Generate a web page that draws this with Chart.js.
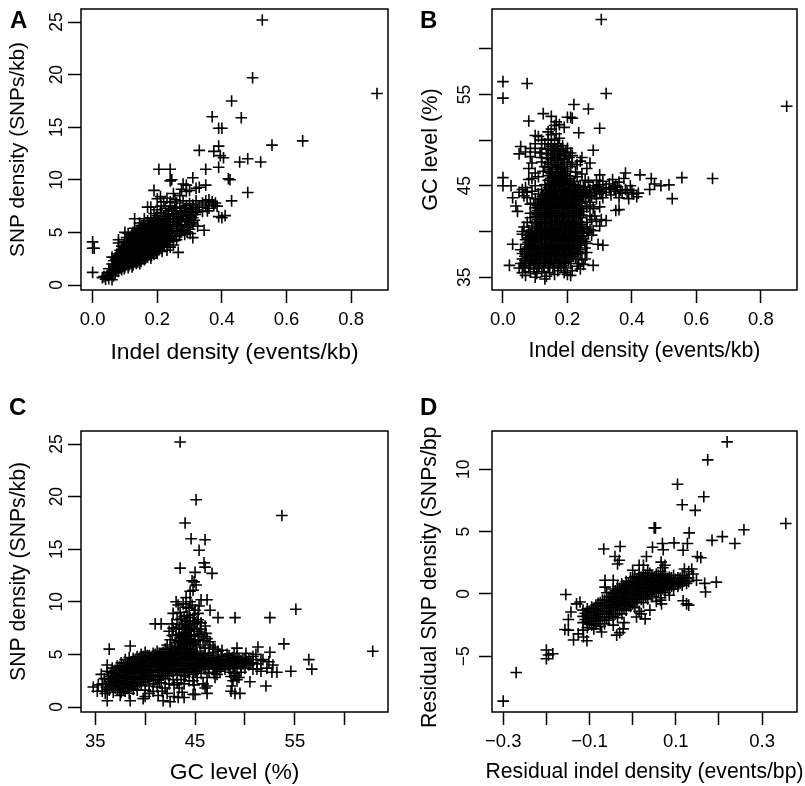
<!DOCTYPE html>
<html>
<head>
<meta charset="utf-8">
<title>Indel and SNP density</title>
<script src="https://cdn.jsdelivr.net/npm/chart.js@4"></script>
<style>
  html, body { margin: 0; padding: 0; background: #fff; }
  #page { position: relative; width: 805px; height: 786px; overflow: hidden; }
  canvas { position: absolute; }
  .letter { position: absolute; font: bold 24px "Liberation Sans", sans-serif; line-height: 24px; color: #000; }
</style>
</head>
<body>
<div id="page">
  <canvas id="panelA" width="400" height="375" style="left:0;top:0"></canvas>
  <canvas id="panelB" width="400" height="375" style="left:405px;top:0"></canvas>
  <canvas id="panelC" width="400" height="396" style="left:0;top:390px"></canvas>
  <canvas id="panelD" width="400" height="396" style="left:405px;top:390px"></canvas>
  <div class="letter" style="left:10px;top:8px">A</div>
  <div class="letter" style="left:420px;top:8px">B</div>
  <div class="letter" style="left:9px;top:395px">C</div>
  <div class="letter" style="left:420px;top:395px">D</div>
</div>
<script>
// Values, [x, y] per plus sign.
const pointsA = [
  [.525,25.2],[.495,19.7],[.88,18.2],[.43,17.5],[.37,16],[.46,15.9],[.39,14.9],[.4,14.9],[.65,13.7],[.555,13.3],[.39,13.2],[.33,12.8],[.375,12.7],[.395,12.3],[.405,12.1],[.48,12],[.455,11.7],[.52,11.7],[.39,11.2],[.35,11],[.205,11],[.24,11],[.24,9.9],[.245,10],[.42,10.1],[.425,10],[.31,10.2],[.28,9.6],[.29,9.5],[.35,9.5],[.48,8.8],[.19,9],[.43,8],[.41,6.6],[.39,6.5],[.4,6.4],[.345,5.2],[.31,4.5],[.265,3.1],[0,4.1],[0,3.5],[.005,3.5],[0,1.2],[.08,4.3],[.08,4],[.1,5],[.13,6.3],[.18,7.4],[.17,7.4],
  [.32,9.2],[.3,9],[.33,9.3],[.21,8.4],[.25,8.7],[.27,8.5],[.24,7.9],[.22,7.9],[.26,7.8],[.28,8],[.27,7.4],[.32,8],[.31,7.6],[.33,7.4],[.34,7.8],[.35,8],[.36,8.1],[.37,7.9],[.38,7.8],[.385,7.5],[.36,7.3],[.3,7.2],[.29,6.9],[.34,7],[.32,6.9],
  [.03,.7],[.04,.55],[.05,.6],[.045,.9],[.035,.8],[.06,.5],[.055,1],[.065,.85],[.05,1.2],[.06,1.3],[.07,1.15],[.08,1.3],[.05,1.55],[.065,1.6],[.075,1.5],[.09,1.45],[.06,2],[.07,1.9],[.08,1.8],[.09,1.85],[.1,1.75],[.11,1.65],[.065,2.3],[.075,2.2],[.085,2.25],[.095,2.15],[.105,2.1],[.115,2],[.125,1.9],[.06,2.65],
  [.07,2.6],[.08,2.55],[.09,2.6],[.1,2.5],[.11,2.45],[.12,2.4],[.13,2.3],[.14,2.2],[.15,2.25],[.16,2.4],
  [.075,2.95],[.085,2.9],[.095,3],[.105,2.85],[.115,2.9],[.125,2.8],[.135,2.75],[.145,2.7],[.155,2.8],[.17,2.65],[.18,2.55],
  [.085,3.3],[.095,3.35],[.105,3.25],[.115,3.3],[.125,3.2],[.135,3.25],[.145,3.15],[.155,3.2],[.165,3.1],[.175,3.05],[.19,2.9],[.2,3],
  [.09,3.7],[.1,3.65],[.11,3.75],[.12,3.6],[.13,3.7],[.14,3.55],[.15,3.65],[.16,3.5],[.17,3.55],[.18,3.45],[.19,3.4],[.205,3.35],[.215,3.2],[.23,3.3],
  [.1,4.1],[.11,4],[.12,4.15],[.13,4.05],[.14,4],[.15,4.1],[.16,3.95],[.17,4.05],[.18,3.9],[.19,3.85],[.2,3.9],[.21,3.75],[.22,3.7],[.24,3.6],[.25,3.8],
  [.105,4.5],[.115,4.4],[.125,4.55],[.135,4.45],[.145,4.5],[.155,4.4],[.165,4.5],[.175,4.35],[.185,4.45],[.195,4.3],[.205,4.35],[.215,4.2],[.225,4.25],[.235,4.1],[.25,4.2],[.26,4.3],
  [.11,4.9],[.125,5],[.14,4.85],[.15,4.95],[.16,4.85],[.17,4.95],[.18,4.8],[.19,4.9],[.2,4.75],[.21,4.85],[.22,4.7],[.23,4.75],[.24,4.6],[.255,4.65],[.27,4.7],[.285,4.8],
  [.13,5.4],[.145,5.35],[.155,5.45],[.165,5.3],[.175,5.4],[.185,5.3],[.195,5.4],[.205,5.25],[.215,5.35],[.225,5.2],[.235,5.25],[.245,5.1],[.26,5.15],[.28,5.2],[.3,5.3],
  [.145,5.9],[.16,5.8],[.175,5.9],[.185,5.75],[.2,5.85],[.21,5.7],[.22,5.8],[.23,5.65],[.24,5.75],[.25,5.6],[.265,5.7],[.285,5.75],[.31,5.8],[.325,5.6],
  [.16,6.3],[.18,6.4],[.195,6.3],[.21,6.35],[.225,6.25],[.24,6.3],[.255,6.2],[.27,6.25],[.29,6.3],[.31,6.4],
  [.19,6.8],[.21,6.9],[.23,6.75],[.245,7.1],[.26,6.8],[.275,6.7],[.3,6.6],[.225,7.3]
];
const coreA = [
  [.058,1.12],[.072,1.38],[.083,1.62],[.098,1.55],[.068,1.78],[.078,2.02],[.088,2.05],[.102,1.97],[.112,1.86],[.122,1.72],[.072,2.42],[.083,2.4],[.092,2.38],[.103,2.32],[.113,2.26],[.124,2.18],[.135,2.05],[.146,2.02],[.08,2.75],[.09,2.78],[.101,2.68],[.11,2.7],[.12,2.62],[.13,2.55],[.141,2.45],[.152,2.52],[.164,2.58],[.09,3.15],[.1,3.12],[.11,3.08],[.12,3.05],[.13,3],[.14,2.95],[.15,3],[.16,2.9],[.172,2.87],[.182,2.78],
  [.096,3.52],[.106,3.48],[.116,3.5],[.126,3.42],[.136,3.45],[.146,3.38],[.156,3.42],[.166,3.33],[.176,3.28],[.186,3.22],[.197,3.15],[.105,3.87],[.115,3.88],[.125,3.82],[.135,3.85],[.145,3.78],[.155,3.85],[.165,3.74],[.175,3.8],[.185,3.68],[.195,3.62],[.205,3.58],[.112,4.28],[.122,4.32],[.132,4.25],[.142,4.27],[.152,4.22],[.162,4.26],[.172,4.18],[.182,4.2],[.192,4.08],[.202,4.12],[.212,3.98],[.222,3.95],[.233,3.85],
  [.12,4.72],[.13,4.75],[.145,4.68],[.155,4.72],[.165,4.66],[.175,4.68],[.185,4.62],[.195,4.68],[.205,4.58],[.215,4.6],[.225,4.48],[.24,4.38],[.138,5.2],[.15,5.15],[.16,5.18],[.17,5.12],[.18,5.15],[.19,5.1],[.2,5.15],[.21,5.05],[.22,5.1],[.23,5],[.245,4.9],[.15,5.62],[.17,5.65],[.18,5.58],[.19,5.6],[.2,5.55],[.21,5.5],[.22,5.55],[.235,5.45],[.25,5.38],[.17,6.1],[.19,6.05],[.205,6.1],[.218,6],[.232,6.05],[.248,5.95],[.26,5.95],[.2,6.6],[.22,6.55],[.235,6.58],[.25,6.5],[.265,6.45],
  [.272,5.55],[.262,5.35],[.275,5.05],[.268,4.85],[.292,5.05],[.302,4.9],[.295,5.55],[.305,5.95],[.29,6.1],[.275,6.05],[.28,6.5],[.295,6.6],[.315,6.15],[.318,6.7],[.305,6.95],[.285,7.25],[.255,7.3],[.24,7.5],[.275,7.05],[.25,7.05],[.235,7.05],[.212,7.5],[.2,7.15],[.31,7.35],[.3,7.75],[.29,7.55],[.35,7.6],[.375,7.55],[.325,7.15],[.355,7.05],[.255,8.1],[.275,9.1],[.29,8.9],[.23,8.25],[.2,8.2]
];

const pointsB = [
  [.305,63.2],[0,56.4],[.075,56.2],[0,54.6],[.32,55.1],[.88,53.7],[.22,53.9],[.265,53.4],[.125,52.9],[.15,52.6],[.21,52.5],[.2,52.5],[.215,52.4],[.08,52.1],[.165,52],[.175,51.7],[.19,51.4],[.3,51.3],[.235,50.8],[.1,50.5],[.14,50.9],[.28,48.9],[.245,48.1],[.24,47.7],[.055,49.3],[.05,48.5],[.07,48.7],[.085,48.2],[.08,46.9],[.26,46.9],[.3,46.2],[0,45.9],[0,45],[.025,45],[.65,45.8],[.555,45.9],[.46,45.8],[.425,46.2],[.38,46.4],[.375,45.8],[.515,45.1],[.525,43.6],[.49,45],[.47,45.2],[.455,44.6],[.42,44.2],[.415,43.8],[.38,44.6],[.37,44.2],[.4,44.5],[.39,43.6],[.36,45.4],[.34,45.7],[.33,45.2],[.32,44.8],[.31,45.5],[.3,44.4],[.35,44.4],[.36,43.7],[.335,44],[.31,43.7],[.285,44.1],[.27,44.6],[.28,45],[.265,45.4],[.29,43.6],[.36,42.4],[.35,42.3],[.305,41.3],[.32,41.2],[.29,41.1],[.31,38.5],[.295,38.6],[.28,36.3],[.02,36.3],[.03,38.6],[.03,43.7],[.04,42.8],[.045,42.2],[.05,44.3],[.06,44.6],[.07,44.8],[.08,45.7],[.09,45.8],[.11,46],[.12,50],[.11,50.4],
  [.1,35],[.13,34.8],[.135,35.1],[.07,35.2],[.16,35.3],[.2,35.3],[.21,35.2],[.06,35.5],[.085,35.6],[.105,35.4],[.12,35.6],[.145,35.5],[.17,35.7],[.23,36.2],[.05,36],[.065,36.1],[.08,36],[.095,35.9],[.11,36.1],[.125,36],[.14,36.1],[.155,36],[.18,36.1],[.195,36],[.235,36.5],[.055,36.5],[.07,36.6],[.085,36.5],[.1,36.6],[.115,36.5],[.13,36.6],[.145,36.5],[.16,36.6],[.175,36.5],[.19,36.6],[.21,36.5],[.25,36.4],
  [.06,37],[.075,37.1],[.09,37],[.105,37.1],[.12,37],[.135,37.1],[.15,37],[.165,37.1],[.18,37],[.195,37.1],[.21,37],[.225,37.1],[.245,36.9],[.06,37.6],[.075,37.5],[.09,37.6],[.105,37.5],[.12,37.6],[.135,37.5],[.15,37.6],[.165,37.5],[.18,37.6],[.195,37.5],[.21,37.6],[.225,37.5],[.24,37.6],
  [.055,38],[.07,38.1],[.085,38],[.1,38.1],[.115,38],[.13,38.1],[.145,38],[.16,38.1],[.175,38],[.19,38.1],[.205,38],[.22,38.1],[.235,38],[.255,38.2],[.07,38.6],[.085,38.5],[.1,38.6],[.115,38.5],[.13,38.6],[.145,38.5],[.16,38.6],[.175,38.5],[.19,38.6],[.205,38.5],[.22,38.6],[.24,38.5],[.26,38.7],
  [.07,39.1],[.085,39],[.1,39.1],[.115,39],[.13,39.1],[.145,39],[.16,39.1],[.175,39],[.19,39.1],[.205,39],[.22,39.1],[.235,39],[.25,39.2],[.06,39.7],[.075,39.6],[.09,39.5],[.105,39.6],[.12,39.5],[.135,39.6],[.15,39.5],[.165,39.6],[.18,39.5],[.195,39.6],[.21,39.5],[.225,39.6],[.245,39.5],[.275,39.6],
  [.06,40],[.08,40.1],[.1,40],[.115,40.1],[.13,40],[.145,40.1],[.16,40],[.175,40.1],[.19,40],[.205,40.1],[.22,40],[.235,40.1],[.25,40],[.27,40.2],[.28,40.1],[.09,40.6],[.105,40.5],[.12,40.6],[.135,40.5],[.15,40.6],[.165,40.5],[.18,40.6],[.195,40.5],[.21,40.6],[.225,40.5],[.24,40.6],[.26,40.5],
  [.1,41],[.115,41.1],[.13,41],[.145,41.1],[.16,41],[.175,41.1],[.19,41],[.205,41.1],[.22,41],[.235,41.1],[.26,41],[.275,41.3],[.1,41.6],[.115,41.5],[.13,41.6],[.145,41.5],[.16,41.6],[.175,41.5],[.19,41.6],[.205,41.5],[.22,41.6],[.24,41.5],[.27,41.7],
  [.1,42.1],[.115,42],[.13,42.1],[.145,42],[.16,42.1],[.175,42],[.19,42.1],[.205,42],[.22,42.1],[.235,42],[.25,42.2],[.1,42.6],[.115,42.5],[.13,42.6],[.145,42.5],[.16,42.6],[.175,42.5],[.19,42.6],[.205,42.5],[.22,42.6],[.24,42.5],[.26,42.7],
  [.095,43.1],[.11,43],[.125,43.1],[.14,43],[.155,43.1],[.17,43],[.185,43.1],[.2,43],[.215,43.1],[.23,43],[.245,43.1],[.27,43.2],[.1,43.6],[.115,43.5],[.13,43.6],[.145,43.5],[.16,43.6],[.175,43.5],[.19,43.6],[.205,43.5],[.22,43.6],[.235,43.5],[.25,43.7],[.265,43.8],
  [.11,44.1],[.125,44],[.14,44.1],[.155,44],[.17,44.1],[.185,44],[.2,44.1],[.215,44],[.23,44.1],[.245,44],[.26,44.2],[.12,44.6],[.135,44.5],[.15,44.6],[.165,44.5],[.18,44.6],[.195,44.5],[.21,44.6],[.225,44.5],[.24,44.6],[.255,44.5],[.13,45.1],[.145,45],[.16,45.1],[.175,45],[.19,45.1],[.205,45],[.22,45.1],[.24,45],
  [.14,45.6],[.155,45.5],[.17,45.6],[.185,45.5],[.2,45.6],[.22,45.5],[.14,46.1],[.155,46],[.17,46.1],[.185,46],[.2,46.1],[.23,46],[.125,46.6],[.145,46.5],[.165,46.6],[.18,46.5],[.2,46.6],[.225,46.5],[.13,47.1],[.15,47],[.165,47.1],[.185,47],[.21,47.1],[.12,47.6],[.14,47.5],[.16,47.6],[.18,47.5],[.2,47.6],[.215,47.5],[.12,48.1],[.14,48],[.16,48.1],[.18,48],[.205,48.1],[.215,48.3],[.115,48.6],[.135,48.5],[.155,48.6],[.175,48.5],[.195,48.7],[.21,48.6],[.12,49.1],[.14,49],[.16,49.1],[.18,49],[.2,49.1],[.13,49.6],[.15,49.5],[.17,49.6],[.185,49.4],[.14,50.1],[.16,50],[.175,50.2],[.15,50.6],[.165,50.7],[.15,51.2],[.16,51.6]
];
const coreB = [
  [.068,36.3],[.083,36.28],[.097,36.32],[.112,36.3],[.128,36.26],[.142,36.33],[.158,36.28],[.172,36.3],[.188,36.25],[.068,36.82],[.082,36.78],[.098,36.85],[.112,36.8],[.127,36.82],[.143,36.78],[.157,36.84],[.172,36.8],[.188,36.83],[.203,36.78],[.068,37.3],[.083,37.28],[.097,37.33],[.113,37.3],[.127,37.26],[.143,37.32],[.158,37.28],[.172,37.31],[.188,37.27],[.203,37.33],[.218,37.3],
  [.068,37.82],[.082,37.78],[.097,37.84],[.112,37.8],[.128,37.76],[.142,37.83],[.157,37.8],[.172,37.78],[.187,37.84],[.203,37.8],[.218,37.77],[.232,37.82],[.078,38.3],[.093,38.33],[.108,38.28],[.122,38.3],[.138,38.26],[.153,38.32],[.168,38.3],[.183,38.27],[.197,38.33],[.212,38.3],[.228,38.28],[.078,38.82],[.093,38.78],[.107,38.84],[.122,38.8],[.138,38.77],[.153,38.83],[.167,38.8],[.183,38.78],[.197,38.84],[.213,38.8],[.228,38.78],[.243,38.83],
  [.078,39.3],[.093,39.28],[.107,39.33],[.122,39.27],[.138,39.3],[.152,39.32],[.168,39.28],[.183,39.3],[.197,39.26],[.213,39.33],[.228,39.3],[.085,39.82],[.1,39.78],[.113,39.84],[.128,39.8],[.143,39.78],[.157,39.83],[.172,39.8],[.187,39.77],[.203,39.84],[.218,39.8],[.235,39.8],[.25,39.82],[.107,40.3],[.122,40.33],[.138,40.28],[.152,40.3],[.168,40.27],[.182,40.33],[.197,40.3],[.213,40.28],[.228,40.32],[.243,40.3],[.26,40.27],
  [.107,40.82],[.122,40.78],[.138,40.84],[.152,40.8],[.167,40.77],[.183,40.83],[.198,40.8],[.213,40.78],[.228,40.84],[.245,40.8],[.107,41.3],[.122,41.28],[.137,41.33],[.152,41.3],[.168,41.27],[.183,41.32],[.197,41.3],[.213,41.28],[.228,41.33],[.107,41.82],[.122,41.78],[.138,41.84],[.152,41.8],[.167,41.78],[.183,41.83],[.197,41.8],[.213,41.77],[.228,41.83],[.245,41.8],
  [.107,42.3],[.122,42.33],[.138,42.28],[.152,42.3],[.168,42.27],[.182,42.33],[.197,42.3],[.213,42.28],[.228,42.32],[.107,42.82],[.122,42.78],[.137,42.84],[.152,42.8],[.167,42.77],[.183,42.83],[.197,42.8],[.213,42.78],[.228,42.84],[.243,42.8],[.118,43.3],[.132,43.33],[.148,43.28],[.162,43.3],[.178,43.27],[.193,43.33],[.207,43.3],[.222,43.28],[.237,43.32],[.122,43.82],[.137,43.78],[.152,43.84],[.167,43.8],[.182,43.77],[.197,43.83],[.212,43.8],[.227,43.78],[.243,43.84],[.257,43.9],
  [.132,44.3],[.148,44.28],[.162,44.33],[.178,44.3],[.192,44.27],[.207,44.32],[.222,44.3],[.238,44.28],[.253,44.33],[.27,44.3],[.142,44.82],[.157,44.78],[.172,44.84],[.187,44.8],[.202,44.78],[.218,44.83],[.233,44.8],[.25,44.82],[.295,44.9],[.31,44.6],[.33,44.7],[.345,44.9],[.147,45.3],[.162,45.33],[.177,45.28],[.192,45.3],[.21,45.3],[.148,45.82],[.162,45.78],[.178,45.84],[.193,45.8],[.208,45.78],[.15,46.32],[.165,46.3],[.18,46.28],[.193,46.33],[.152,46.82],[.172,46.8],[.19,46.84],[.15,47.32],[.17,47.28],[.19,47.3],[.15,47.82],[.17,47.8],[.19,47.85],[.15,48.32],[.17,48.3],[.19,48.33],[.15,48.85],[.168,48.82],[.185,48.85],[.15,49.3],[.17,49.32],
  [.29,44.75],[.305,44.2],[.32,44.3],[.275,43.9],[.345,44.6],[.355,44.9],[.365,44.5],[.385,44.3],[.405,44.1],[.395,45],[.35,45],[.3,45.1],[.29,45.6],[.255,45.6],[.245,46.3],[.23,47.3],[.27,47.5],[.25,44.9],[.27,42.9],[.28,42.5],[.3,42.7],[.285,41.7],[.3,40.6],[.265,39.9],[.255,38.9],[.26,37.7],[.255,37],[.24,35.9],[.215,35.7],[.19,35.5],[.075,41],[.085,42],[.085,43],[.085,41.5],[.065,40.5],[.075,43.7],[.065,43.9],[.075,44.3],[.09,44.4],[.1,45],[.1,46.4],[.09,47.5],[.1,48.7],[.1,49.6],[.085,49.1]
];

const pointsC = [
  [43.5,25.2],[45.1,19.7],[53.7,18.2],[44,17.5],[44.6,16],[46,15.9],[45.4,14.9],[45.9,13.7],[46,13.3],[43.5,13.2],[45,12.8],[46.7,12.7],[44.7,12],[44.9,11.9],[45.1,11.6],[44.5,11],[44.8,11.1],[43.1,10],[45.6,10.2],[46.2,10.2],[44.5,10],[42.8,8.9],[46.5,9.2],[47.3,8.5],[49,8.5],[52.5,8.5],[55.1,9.3],[41,7.9],[41.6,7.9],[42.7,7.9],[53.9,6],[36.4,5.5],[38.5,5.8],[49.2,5.6],[51.3,5.7],[52.5,5.2],[56.4,4.5],[56.7,3.6],[54.6,3.4],[53.2,3.3],[52.7,3.3],[51.6,3.4],[50.5,2.4],[52.1,2],[62.8,5.3],[49.5,1.3],[49,1.3],[48.6,1.5],[46.2,1.3],[46.2,2],[45,1.2],[44.8,1.2],[43.3,.9],[43.9,.9],[42.5,.5],[41.8,.6],[42.9,1],[36.2,.6],[38.5,.6],[39.8,.8],[40,1],[41.7,1.5],[48.7,2],[48.8,2.5],[49,3],[49.2,2.6],[49.4,2.8],[47.2,3.1],[47,2.8],[45.8,2.2],[46,1.8],[44.8,2.5],[43.7,1.4],[43.4,1.8],[43.9,2.2],[41.3,1.1],[40.8,1.5],[39.2,1.6],[37.5,1.1],[52.4,4.3],[52.8,4],[52.2,3.7],[51.8,4.5],
  [43.8,9.8],[44.1,9.5],[44.4,9.4],[44.7,9.7],[45,9.2],[45.3,8.9],[43.5,9],[43.2,8.3],[43.6,8.4],[43.9,8.6],[44.2,8.7],[44.5,8.5],[44.8,8.2],[45.2,8.1],[45.6,8],[46,7.7],[42.8,7.5],[43.1,7.4],[43.4,7.6],[43.7,7.8],[44,7.9],[44.3,7.7],[44.6,7.4],[44.9,7.5],[45.2,7.2],[45.6,7],[46.1,7],[42.7,6.8],[43.1,6.8],[43.4,6.9],[43.7,7],[44,7.1],[44.3,6.9],[44.6,6.8],[44.9,6.7],[45.3,6.4],[45.8,6.3],[46.2,6.5],[43,6.1],[43.3,6.3],[43.6,6.2],[43.9,6.4],[44.2,6.2],[44.5,6.1],[44.8,6],[45.1,5.9],[45.5,5.7],[46,5.6],[46.4,5.9],[47,5.5],[42.2,5.9],[42.6,5.7],[43,5.6],[43.3,5.7],[43.6,5.5],[43.9,5.7],[44.2,5.5],[44.5,5.5],[44.8,5.3],
  [34.8,1.9],[35.2,1.5],[35.3,2.1],[35.7,1.5],[35.7,2.2],[35.6,3.1],[35.9,2.7],[36,1.3],[36.1,1.9],[36.2,3.4],[36.4,1.6],[36.4,2.4],[36.5,2.9],[36.2,4],[36.8,1.4],[36.8,2],[36.8,2.6],[36.8,3.2],[36.7,3.7],[37.2,1.6],[37.2,2.2],[37.2,2.8],[37.2,3.4],[37.2,3.9],[37.6,1.4],[37.6,1.9],[37.6,2.5],[37.6,3.1],[37.6,3.6],[37.6,4.2],[38,1.5],[38,2.1],[38,2.7],[38,3.3],[38,3.8],[38,4.5],[38.4,1.3],[38.4,1.8],[38.4,2.4],[38.4,3],[38.4,3.5],[38.4,4.1],[38.4,4.7],[38.8,1.7],[38.8,2.3],[38.8,2.9],[38.8,3.5],[38.8,4],[38.8,4.6],[39.2,2],[39.2,2.6],[39.2,3.2],[39.2,3.7],[39.2,4.2],[39.2,4.8],[39.6,2.1],[39.6,2.7],[39.6,3.3],[39.6,3.9],[39.6,4.5],[39.6,5],[40,1.6],[40,2.4],[40,3],[40,3.6],[40,4.1],[40,4.6],[40,5.2],[40.4,1.3],[40.4,2],[40.4,2.7],[40.4,3.3],[40.4,3.8],[40.4,4.3],[40.4,4.9],[40.8,2.2],[40.8,3],[40.8,3.5],[40.8,4],[40.8,4.5],[40.8,5.1],[41.2,1.9],[41.2,2.6],[41.2,3.3],[41.2,3.8],[41.2,4.3],[41.2,4.8],[41.2,5.3],[41.6,2.3],[41.6,3],[41.6,3.6],[41.6,4.1],[41.6,4.6],[41.6,5.1],[42,1.8],[42,2.7],[42,3.4],[42,3.9],[42,4.4],[42,4.9],[42,5.5],[42.4,2.2],[42.4,3],[42.4,3.6],[42.4,4.1],[42.4,4.6],[42.4,5.1],[42.8,2.6],[42.8,3.3],[42.8,3.9],[42.8,4.4],[42.8,4.9],[42.8,5.4],[43.2,2.3],[43.2,3],[43.2,3.6],[43.2,4.2],[43.2,4.7],[43.2,5.2],[43.6,2.6],[43.6,3.3],[43.6,3.9],[43.6,4.5],[43.6,5],[44,2.9],[44,3.6],[44,4.2],[44,4.8],[44,5.3],[44.4,2.5],[44.4,3.3],[44.4,3.9],[44.4,4.5],[44.4,5],[44.8,3.1],[44.8,3.7],[44.8,4.2],[44.8,4.8],[45.2,2.8],[45.2,3.5],[45.2,4],[45.2,4.5],[45.2,5.1],[45.6,3.2],[45.6,3.8],[45.6,4.3],[45.6,4.9],[46,3.6],[46,4.1],[46,4.6],[46,5.1],[46.4,3.3],[46.4,3.9],[46.4,4.4],[46.4,4.9],[46.8,3.7],[46.8,4.2],[46.8,4.7],[46.8,5.2],[47.2,3.6],[47.2,4.1],[47.2,4.6],[47.6,3.8],[47.6,4.3],[47.6,4.8],[48,3.6],[48,4.1],[48,4.6],[48.4,3.9],[48.4,4.4],[48.4,4.9],[48.8,3.7],[48.8,4.2],[48.8,4.7],[49.2,3.8],[49.2,4.3],[49.2,4.8],[49.6,3.9],[49.6,4.4],[50,3.7],[50,4.2],[50,4.6],[50.4,4],[50.4,4.5],[50.8,3.6],[50.8,4.2],[50.8,4.8],[51.2,4.1],[51.2,3.6],[51.6,4.4]
];
const coreC = [
  [36,2.2],[36.2,1.7],[36.3,2.7],[36.6,2],[36.6,2.6],[36.6,3.3],[37,1.8],[37,2.4],[37,3],[37,3.5],[37.4,1.7],[37.4,2.3],[37.4,2.9],[37.4,3.4],[37.4,3.8],[37.8,1.7],[37.8,2.2],[37.8,2.8],[37.8,3.4],[37.8,3.9],[38.2,1.8],[38.2,2.4],[38.2,3],[38.2,3.6],[38.2,4.1],[38.6,2],[38.6,2.6],[38.6,3.2],[38.6,3.8],[38.6,4.3],[39,2.2],[39,2.8],[39,3.4],[39,3.9],[39,4.5],[39.4,2.3],[39.4,2.9],[39.4,3.5],[39.4,4],[39.4,4.6],[39.8,2.6],[39.8,3.2],[39.8,3.8],[39.8,4.3],[39.8,4.8],[40.2,2.7],[40.2,3.3],[40.2,3.9],[40.2,4.4],[40.2,4.9],[40.6,2.9],[40.6,3.5],[40.6,4.1],[40.6,4.7],[41,2.6],[41,3.3],[41,3.9],[41,4.5],[41,5],[41.4,2.9],[41.4,3.5],[41.4,4.1],[41.4,4.6],[41.4,5.1],[41.8,3],[41.8,3.6],[41.8,4.2],[41.8,4.7],[41.8,5.2],[42.2,3.2],[42.2,3.8],[42.2,4.3],[42.2,4.8],[42.6,3.4],[42.6,3.9],[42.6,4.4],[42.6,4.9],[42.6,5.3],[43,3.5],[43,4],[43,4.5],[43,5],[43.4,3.6],[43.4,4.2],[43.4,4.7],[43.4,5.3],[43.8,3.4],[43.8,4],[43.8,4.6],[43.8,5.1],[44.2,3.3],[44.2,3.9],[44.2,4.5],[44.2,5],[44.6,3.6],[44.6,4.1],[44.6,4.7],[44.6,5.2],[45,3.4],[45,4],[45,4.5],[45,5],[45.4,3.7],[45.4,4.2],[45.4,4.7],[45.8,3.9],[45.8,4.4],[45.8,4.9],[46.2,4],[46.2,4.5],[46.6,4.1],[46.6,4.6],[47,3.9],[47,4.4],[47.4,4],[47.4,4.5],[47.8,4],[47.8,4.5],[48.2,4],[48.2,4.5],[48.6,4.1],[48.6,4.5],[49,4],[49,4.5],[49.4,4.1],[49.4,4.6],[49.8,4.1],[49.8,4.5],[50.2,4.3],[50.6,4.2],[43.4,6.2],[43.7,6.6],[44,6.7],[44.3,6.5],[44.6,6.4],[43.6,5.9],[43.9,6],[44.2,5.9],[44.5,5.8],[43.8,7.4],[44.1,7.5],[44.4,7.3],[44.1,8.2],[44.4,8.1],
  [44.9,8.8],[45.3,8.3],[45.6,7.4],[45.9,6.7],[46.5,6.2],[45.4,9.6],[44.1,10.4],[43.3,9.7],[46.8,5.7],[47.3,5.3],[47.7,5.4],[48.2,5],[48.9,5.1],[47.5,3.4],[46.9,3.2],[48.9,3.2],[48.5,3.3],[51.1,5],[50.1,5.1],[42.5,6.4],[42.4,7.2],[45,6.2],[45.4,6.9],[45,7.9],[43.9,3],[42.9,2.1],[42.2,1.3],[41.4,2.3],[44.9,2.1],[46.2,2.8],[48.6,2.9],[49.6,3.3]
];

const pointsD = [
  [-.3,-8.6],[-.27,-6.3],[-.2,-4.5],[-.2,-5.2],[-.195,-4.9],[-.185,-4.8],[-.155,-.05],[.355,5.65],[.219,12.2],[.174,10.75],[.104,8.8],[.165,7.8],[.115,7.15],[.145,6.7],[.258,5.15],[.053,5.3],[.05,5.3],[.131,4.9],[.208,4.6],[.184,4.3],[.237,4.05],[.096,4.1],[.127,4.05],[.117,3.5],[.069,4.05],[.071,3.55],[.046,3.75],[-.029,3.8],[-.067,3.6],[-.041,3],[-.031,2.7],[-.035,2.4],[.032,3],[.15,3],[.158,2.9],[.137,2],[.066,2.55],[.025,2.3],[.015,2.3],[.194,.95],[.167,.85],[.169,.15],[.148,1.1],[.117,-.55],[.125,-.8],[.13,-.9],[-.064,1.1],[-.064,.55],[-.122,-.65],[-.13,-.8],[-.143,-1.45],[-.149,-2.05],[-.157,-2.85],[-.149,-2.9],[-.137,-3.7],[-.106,-3.75],[-.114,-3.45],[-.126,-3.2],[-.037,-3.3],[-.022,-2.8],[-.072,-3.05],[.04,-1.3],[.029,-2],[.009,-1.85],[.067,-.8],[.075,2.3],[.07,2.1],[0,1.9],[-.045,1.1],[-.06,.1],[.02,-1.6],[.065,-.5],[.085,-.1],[-.02,-2.3],[-.03,-3.1],[-.09,-2.8],[-.075,-2.6],[-.115,-2.9],[.13,1.8],[.13,1.3],[.12,2],[.14,1.6],
  [-.115,-2.3],[-.115,-1.8],[-.115,-1.3],[-.105,-2.7],[-.105,-2.2],[-.105,-1.7],[-.105,-1.2],[-.095,-2.5],[-.095,-2],[-.095,-1.5],[-.095,-1.05],[-.085,-2.4],[-.085,-1.9],[-.085,-1.4],[-.085,-.9],[-.075,-2.1],[-.075,-1.6],[-.075,-1.15],[-.075,-.7],[-.065,-2.4],[-.065,-1.85],[-.065,-1.4],[-.065,-.95],[-.065,-.5],[-.055,-2.1],[-.055,-1.6],[-.055,-1.15],[-.055,-.7],[-.055,-.25],[-.045,-2.5],[-.045,-1.8],[-.045,-1.35],[-.045,-.9],[-.045,-.45],[-.045,0],[-.045,.4],[-.035,-1.9],[-.035,-1.2],[-.035,-.75],[-.035,-.3],[-.035,.15],[-.035,.6],[-.025,-1.6],[-.025,-1],[-.025,-.55],[-.025,-.1],[-.025,.35],[-.025,.8],[-.015,-1.3],[-.015,-.8],[-.015,-.35],[-.015,.1],[-.015,.55],[-.015,1],[-.005,-1],[-.005,-.6],[-.005,-.15],[-.005,.3],[-.005,.75],[-.005,1.3],[.005,-1.1],[.005,-.45],[.005,0],[.005,.45],[.005,.9],[.005,1.4],[.015,-1.4],[.015,-.3],[.015,.15],[.015,.6],[.015,1.05],[.015,1.6],[.025,-.7],[.025,-.1],[.025,.35],[.025,.75],[.025,1.2],[.025,1.7],[.035,-.4],[.035,.1],[.035,.5],[.035,.9],[.035,1.35],[.035,1.9],[.045,-.2],[.045,.25],[.045,.65],[.045,1.05],[.045,1.5],[.055,-.6],[.055,.1],[.055,.4],[.055,.8],[.055,1.2],[.055,1.6],[.065,-.3],[.065,.3],[.065,.6],[.065,.95],[.065,1.3],[.065,1.8],[.075,.1],[.075,.5],[.075,.85],[.075,1.15],[.075,1.6],[.085,.35],[.085,.7],[.085,1],[.085,1.35],[.095,.4],[.095,.8],[.095,1.1],[.095,1.5],[.105,.6],[.105,.95],[.105,1.3],[.115,.7],[.115,1.1],[.115,1.5],[.125,.85],[.125,1.25],[.13,1]
];
const coreD = [
  [-.11,-2.05],[-.11,-1.55],[-.1,-2.4],[-.1,-1.9],[-.1,-1.4],[-.09,-2.2],[-.09,-1.75],[-.09,-1.25],[-.08,-2.15],[-.08,-1.65],[-.08,-1.2],[-.08,-.75],[-.07,-1.85],[-.07,-1.4],[-.07,-.95],[-.07,-.5],[-.06,-1.9],[-.06,-1.35],[-.06,-.9],[-.06,-.45],[-.05,-1.55],[-.05,-1.1],[-.05,-.65],[-.05,-.2],[-.04,-1.6],[-.04,-1.05],[-.04,-.6],[-.04,-.15],[-.04,.25],[-.03,-1.3],[-.03,-.85],[-.03,-.4],[-.03,.05],[-.03,.45],[-.02,-1.15],[-.02,-.7],[-.02,-.25],[-.02,.2],[-.02,.65],[-.01,-.95],[-.01,-.45],[-.01,0],[-.01,.45],[-.01,.9],[0,-.8],[0,-.3],[0,.15],[0,.6],[0,1.05],[.01,-.65],[.01,-.15],[.01,.3],[.01,.75],[.01,1.2],[.02,-.45],[.02,0],[.02,.45],[.02,.9],[.02,1.35],[.03,-.25],[.03,.2],[.03,.6],[.03,1.05],[.03,1.5],[.04,-.05],[.04,.4],[.04,.8],[.04,1.2],[.04,1.65],[.05,.1],[.05,.5],[.05,.95],[.05,1.35],[.06,.2],[.06,.7],[.06,1.1],[.06,1.5],[.07,.4],[.07,.75],[.07,1.05],[.07,1.45],[.08,.55],[.08,.95],[.08,1.25],[.09,.6],[.09,.95],[.09,1.3],[.1,.8],[.1,1.15],[.11,.85],[.11,1.25],[.12,1.05],[.12,1.45]
];

const xTicksA = [0, .2, .4, .6, .8];
const xLabelsA = ['0.0', '0.2', '0.4', '0.6', '0.8'];
const snpTicks = [0, 5, 10, 15, 20, 25];
const snpLabels = ['0', '5', '10', '15', '20', '25'];
const gcTicks = [35, 40, 45, 50, 55, 60];
const gcLabels = ['35', '', '45', '', '55', ''];
const xTicksD = [-.3, -.2, -.1, 0, .1, .2, .3];
const xLabelsD = ['\u22120.3', '', '\u22120.1', '', '0.1', '', '0.3'];
const yTicksD = [-5, 0, 5, 10];
const yLabelsD = ['\u22125', '0', '5', '10'];

Chart.defaults.font.family = '"Liberation Sans", sans-serif';
Chart.defaults.color = '#000';

// R style box round the plot area, plus the long D title that would
// otherwise get squeezed to the scale width by Chart.js
const framePlugin = {
  id: 'frame',
  afterDraw(chart, args, opts) {
    const { ctx, chartArea: a } = chart;
    ctx.save();
    ctx.strokeStyle = '#000';
    ctx.lineWidth = 1.5;
    ctx.strokeRect(a.left, a.top, a.right - a.left, a.bottom - a.top);
    if (opts.wideTitle) {
      ctx.fillStyle = '#000';
      ctx.font = opts.wideTitle.size + 'px "Liberation Sans", sans-serif';
      ctx.textAlign = 'center';
      ctx.textBaseline = 'middle';
      ctx.fillText(opts.wideTitle.text, (a.left + a.right) / 2, opts.wideTitle.y);
    }
    ctx.restore();
  },
};

function axisBase(ticks) {
  return {
    type: 'linear',
    afterBuildTicks: s => { s.ticks = ticks.map(v => ({ value: v })); },
    grid: { drawOnChartArea: false, drawTicks: true, tickLength: 13, tickColor: '#000', tickWidth: 1.5 },
    border: { display: false },
  };
}

function drawPanel(id, cfg) {
  const x = axisBase(cfg.xTicks);
  const y = axisBase(cfg.yTicks);
  new Chart(document.getElementById(id), {
    type: 'scatter',
    data: {
      datasets: [{
        data: cfg.points.map(p => ({ x: p[0], y: p[1] })),
        pointStyle: 'cross',
        pointRadius: 5.8,
        pointBorderWidth: 1.6,
        pointBorderColor: '#000',
        showLine: false,
      }],
    },
    options: {
      responsive: false,
      animation: false,
      events: [],
      layout: { padding: { top: cfg.top, right: cfg.right, left: 0, bottom: 0 } },
      plugins: { legend: { display: false }, tooltip: { enabled: false }, frame: { wideTitle: cfg.wideTitle } },
      scales: {
        x: Object.assign(x, {
          min: cfg.xRange[0], max: cfg.xRange[1],
          afterFit: s => { s.height = cfg.xHeight; s.paddingLeft = s.paddingRight = 0; },
          ticks: { autoSkip: false, minRotation: 0, maxRotation: 0, padding: 6, font: { size: 18.5 },
            callback: (v, i) => cfg.xLabels[i] },
          title: { display: !!cfg.xTitle, text: cfg.xTitle, font: { size: cfg.xTitleSize }, padding: { top: 0, bottom: cfg.xTitleBottom } },
        }),
        y: Object.assign(y, {
          min: cfg.yRange[0], max: cfg.yRange[1],
          afterFit: s => { s.width = cfg.yWidth; s.paddingTop = s.paddingBottom = 0; },
          ticks: { autoSkip: false, minRotation: 90, maxRotation: 90, crossAlign: 'center', padding: cfg.yPad, font: { size: 17.5 },
            callback: (v, i) => cfg.yLabels[i] },
          title: { display: true, text: cfg.yTitle, font: { size: cfg.yTitleSize }, padding: { top: cfg.yTitleLeft, bottom: 0 } },
        }),
      },
    },
    plugins: [framePlugin],
  });
}

drawPanel('panelA', {
  points: pointsA.concat(coreA), xTicks: xTicksA, xLabels: xLabelsA, yTicks: snpTicks, yLabels: snpLabels,
  xRange: [-.036, .914], yRange: [-.475, 26.24],
  xTitle: 'Indel density (events/kb)', yTitle: 'SNP density (SNPs/kb)', xTitleSize: 22.9, yTitleSize: 20.8,
  top: 9, right: 12, xHeight: 85, yWidth: 81, yPad: 1.5, xTitleBottom: 9, yTitleLeft: 6,
});
drawPanel('panelB', {
  points: pointsB.concat(coreB), xTicks: xTicksA, xLabels: xLabelsA, yTicks: gcTicks, yLabels: gcLabels,
  xRange: [-.034, .912], yRange: [33.6, 64.35],
  xTitle: 'Indel density (events/kb)', yTitle: 'GC level (%)', xTitleSize: 21.4, yTitleSize: 21.6,
  top: 9, right: 8, xHeight: 85, yWidth: 87, yPad: 4.5, xTitleBottom: 11, yTitleLeft: 13,
});
drawPanel('panelC', {
  points: pointsC.concat(coreC), xTicks: gcTicks, xLabels: gcLabels, yTicks: snpTicks, yLabels: snpLabels,
  xRange: [33.57, 64.33], yRange: [-.475, 26.24],
  xTitle: 'GC level (%)', yTitle: 'SNP density (SNPs/kb)', xTitleSize: 22.9, yTitleSize: 21.2,
  top: 41, right: 12, xHeight: 74, yWidth: 81, yPad: 1.5, xTitleBottom: 0, yTitleLeft: 6,
});
drawPanel('panelD', {
  points: pointsD.concat(coreD), xTicks: xTicksD, xLabels: xLabelsD, yTicks: yTicksD, yLabels: yLabelsD,
  xRange: [-.326, .381], yRange: [-9.47, 13.07],
  xTitle: '', yTitle: 'Residual SNP density (SNPs/bp  ', xTitleSize: 21.2, yTitleSize: 21.2,
  wideTitle: { text: 'Residual indel density (events/bp)', size: 21.2, y: 381.7 },
  top: 41, right: 8, xHeight: 74, yWidth: 87, yPad: 4.5, xTitleBottom: 0, yTitleLeft: 12,
});
</script>
</body>
</html>
